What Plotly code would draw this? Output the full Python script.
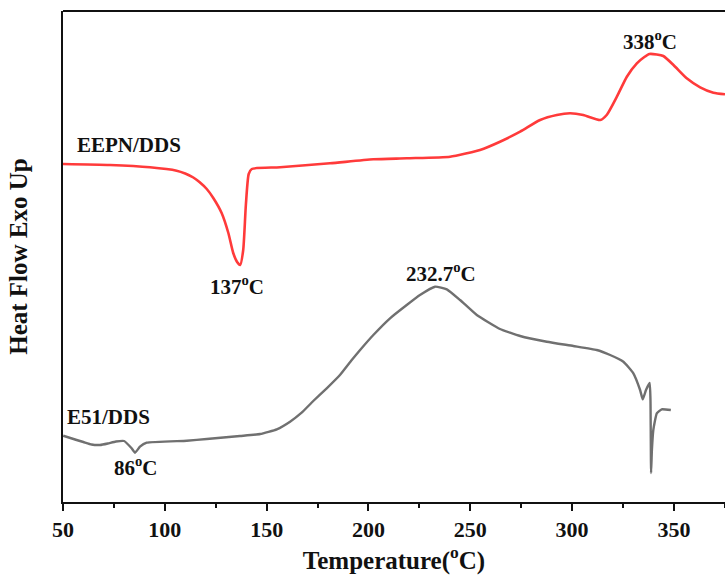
import plotly.graph_objects as go

# DSC thermograms (heat flow in arbitrary units, exotherm up)
eepn_temp = [50, 73.1, 92.7, 105.8, 110, 114, 117, 120.6, 123.8, 127.9, 131.2, 133.6, 135.5, 137,
             138.5, 139.8, 141.2, 142.7, 156.6, 181.1, 202.4, 218.8, 240.1, 248.3, 254.8, 264.6,
             274.5, 284.3, 292.5, 299, 305.5, 313.8, 317, 322, 326.9, 331.8, 335.5, 338, 341.6,
             344.8, 349.8, 356.3, 362.9, 369.4, 375.1]
eepn_flow = [338, 337, 334.7, 331.3, 328.5, 324.5, 320, 313, 304, 289, 269, 249, 240, 237,
             252, 297, 328, 333, 334.7, 338.7, 342.7, 343.7, 345.3, 348.7, 352, 360.3,
             370.3, 382, 387, 388.7, 387, 382, 387, 405.3, 425.3, 438.7, 445, 448, 447.5,
             446, 437, 423.7, 414.7, 409.3, 407.7]

e51_temp = [50.1, 56.7, 60, 64, 68.2, 72, 76, 80, 83.7, 85.4, 87.8, 91.1, 110.8, 120.6, 136.9,
            146.8, 155, 161.5, 167.2, 172.9, 179.5, 186, 191.8, 195.9, 202.4, 210.6, 218.8,
            225.3, 232.7, 238.5, 245, 253.2, 264.6, 274.5, 287.6, 300.6, 312.1, 318.7, 325.2,
            330.1, 333.4, 334.7, 336.3, 338.1, 338.5, 338.8, 339.2, 339.9, 341.6, 344, 348.5]
e51_flow = [66.3, 62, 60, 57.5, 57, 58.5, 60.5, 61, 53.7, 49.3, 55.3, 59.3, 61.3, 63, 66,
            68, 72.7, 80.3, 89.3, 101, 113.7, 127, 142, 152, 167, 183.7, 197,
            207, 215.3, 212.7, 202, 187, 173, 166, 160.3, 156, 152, 147, 140.3,
            128.7, 112, 102.7, 112, 119, 102, 29, 52, 72, 88.7, 92.7, 92]

x_ticks = [50, 100, 150, 200, 250, 300, 350]
x_minor = [75, 125, 175, 225, 275, 325, 375]

FONT = "Liberation Serif"
INK = "#111111"

fig = go.Figure()
fig.add_trace(go.Scatter(x=eepn_temp, y=eepn_flow, mode="lines",
                         line=dict(color="#ff3a3a", width=2.6, shape="spline", smoothing=0.6),
                         name="EEPN/DDS"))
fig.add_trace(go.Scatter(x=e51_temp, y=e51_flow, mode="lines",
                         line=dict(color="#707070", width=2.4, shape="spline", smoothing=0.4),
                         name="E51/DDS"))

def label(text, x, y, anchor="center"):
    fig.add_annotation(x=x, y=y, text=text, showarrow=False, xanchor=anchor, yanchor="middle",
                       font=dict(family=FONT, size=21, color=INK, weight="bold"))

label("EEPN/DDS", 55.9, 357, "left")
label("137<sup>o</sup>C", 135.5, 217)
label("232.7<sup>o</sup>C", 235.7, 230)
label("338<sup>o</sup>C", 338.3, 462)
label("E51/DDS", 50.8, 85, "left")
label("86<sup>o</sup>C", 86, 36)

# top frame line
fig.add_shape(type="line", xref="paper", yref="paper", x0=0, x1=1, y0=1, y1=1,
              line=dict(color=INK, width=2))

fig.update_layout(
    width=725, height=584,
    margin=dict(l=63, r=0, t=11, b=82),
    paper_bgcolor="white", plot_bgcolor="white",
    showlegend=False,
    font=dict(family=FONT, color=INK),
    xaxis=dict(range=[50, 375.1], tickvals=x_ticks, ticks="outside", ticklen=7, tickwidth=2,
               tickcolor=INK, showline=True, linewidth=2, linecolor=INK,
               showgrid=False, zeroline=False,
               tickfont=dict(family=FONT, size=22, color=INK, weight="bold"),
               minor=dict(tickvals=x_minor, ticks="outside", ticklen=4, tickwidth=2,
                          tickcolor=INK),
               title=dict(text="Temperature(<sup>o</sup>C)", standoff=10,
                          font=dict(family=FONT, size=25, color=INK, weight="bold"))),
    yaxis=dict(range=[0, 491], showticklabels=False, ticks="", showline=True, linewidth=2,
               linecolor=INK, showgrid=False, zeroline=False,
               title=dict(text="Heat Flow Exo Up", standoff=26,
                          font=dict(family=FONT, size=25, color=INK, weight="bold"))),
)

fig.write_html("out.html")
